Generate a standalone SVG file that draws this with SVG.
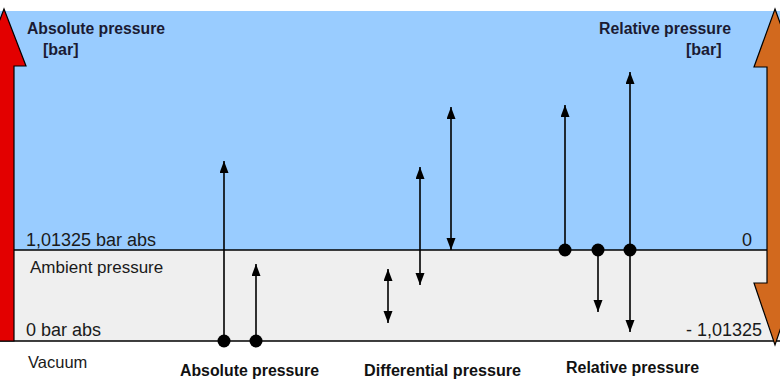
<svg xmlns="http://www.w3.org/2000/svg" width="780" height="387" viewBox="0 0 780 387">
  <style>
    .title { font-family: "Liberation Sans", Arial, sans-serif; font-weight: bold; font-size: 16px; fill: #1b1b33; }
    .label { font-family: "Liberation Sans", Arial, sans-serif; font-size: 18px; fill: #1a1a1a; }
    .cap { font-family: "Liberation Sans", Arial, sans-serif; font-weight: bold; font-size: 16px; fill: #111; }
    .conn { stroke: #000; stroke-width: 1.6; fill: none; }
    .dot { fill: #000; }
  </style>
  <defs>
    <marker id="ah" markerUnits="userSpaceOnUse" markerWidth="14" markerHeight="10" refX="12" refY="4.5" orient="auto-start-reverse">
      <path d="M0,0 L12,4.5 L0,9 z" fill="#000"/>
    </marker>
  </defs>

  <g id="background">
    <rect x="0" y="0" width="780" height="387" fill="#ffffff"/>
    <rect x="0" y="11" width="780" height="239" fill="#99ccff"/>
    <rect x="0" y="250" width="780" height="91" fill="#efefef"/>
    <line x1="0" y1="250" x2="780" y2="250" stroke="#000" stroke-width="1.5"/>
    <line x1="0" y1="341" x2="780" y2="341" stroke="#000" stroke-width="1.5"/>
  </g>

  <g id="absolute-axis">
    <path d="M4,9 L26,66 L14,66 L14,341 L-6,341 L-6,66 L-18,66 Z" fill="#e30000" stroke="#000" stroke-width="1.2"/>
    <text class="title" x="27" y="34" textLength="138" lengthAdjust="spacingAndGlyphs">Absolute pressure</text>
    <text class="title" x="43" y="55">[bar]</text>
  </g>

  <g id="relative-axis">
    <path d="M775,9 L796,67 L783,67 L783,283 L796,283 L775,345 L754,283 L767,283 L767,67 L754,67 Z" fill="#d2691e" stroke="#000" stroke-width="1.2"/>
    <text class="title" x="599" y="34" textLength="132" lengthAdjust="spacingAndGlyphs">Relative pressure</text>
    <text class="title" x="686" y="55">[bar]</text>
  </g>

  <g id="scale-labels">
    <text class="label" x="26" y="246">1,01325 bar abs</text>
    <text class="label" x="30" y="273" style="font-size:17px">Ambient pressure</text>
    <text class="label" x="26" y="336">0 bar abs</text>
    <text class="label" x="28" y="368" style="font-size:16.5px">Vacuum</text>
    <text class="label" x="752" y="246" text-anchor="end">0</text>
    <text class="label" x="762" y="336" text-anchor="end">- 1,01325</text>
  </g>

  <g id="connectors">
    <line class="conn" x1="224" y1="341" x2="224" y2="161" marker-end="url(#ah)"/>
    <line class="conn" x1="256" y1="341" x2="256" y2="264" marker-end="url(#ah)"/>

    <line class="conn" x1="388" y1="269" x2="388" y2="323" marker-start="url(#ah)" marker-end="url(#ah)"/>
    <line class="conn" x1="420" y1="167" x2="420" y2="285" marker-start="url(#ah)" marker-end="url(#ah)"/>
    <line class="conn" x1="451" y1="107" x2="451" y2="250" marker-start="url(#ah)" marker-end="url(#ah)"/>

    <line class="conn" x1="565" y1="250" x2="565" y2="105" marker-end="url(#ah)"/>
    <line class="conn" x1="598" y1="250" x2="598" y2="312" marker-end="url(#ah)"/>
    <line class="conn" x1="630" y1="250" x2="630" y2="72" marker-end="url(#ah)"/>
    <line class="conn" x1="630" y1="250" x2="630" y2="332" marker-end="url(#ah)"/>
  </g>

  <g id="absolute-pressure">
    <circle class="dot" cx="224" cy="341" r="6.5"/>
    <circle class="dot" cx="256" cy="341" r="6.5"/>
    <text class="cap" x="180" y="376" textLength="139" lengthAdjust="spacingAndGlyphs">Absolute pressure</text>
  </g>

  <g id="differential-pressure">
    <text class="cap" x="364" y="376" textLength="157" lengthAdjust="spacingAndGlyphs">Differential pressure</text>
  </g>

  <g id="relative-pressure">
    <circle class="dot" cx="565" cy="250" r="6.5"/>
    <circle class="dot" cx="598" cy="250" r="6.5"/>
    <circle class="dot" cx="630" cy="250" r="6.5"/>
    <text class="cap" x="566" y="373" textLength="133" lengthAdjust="spacingAndGlyphs">Relative pressure</text>
  </g>
</svg>
